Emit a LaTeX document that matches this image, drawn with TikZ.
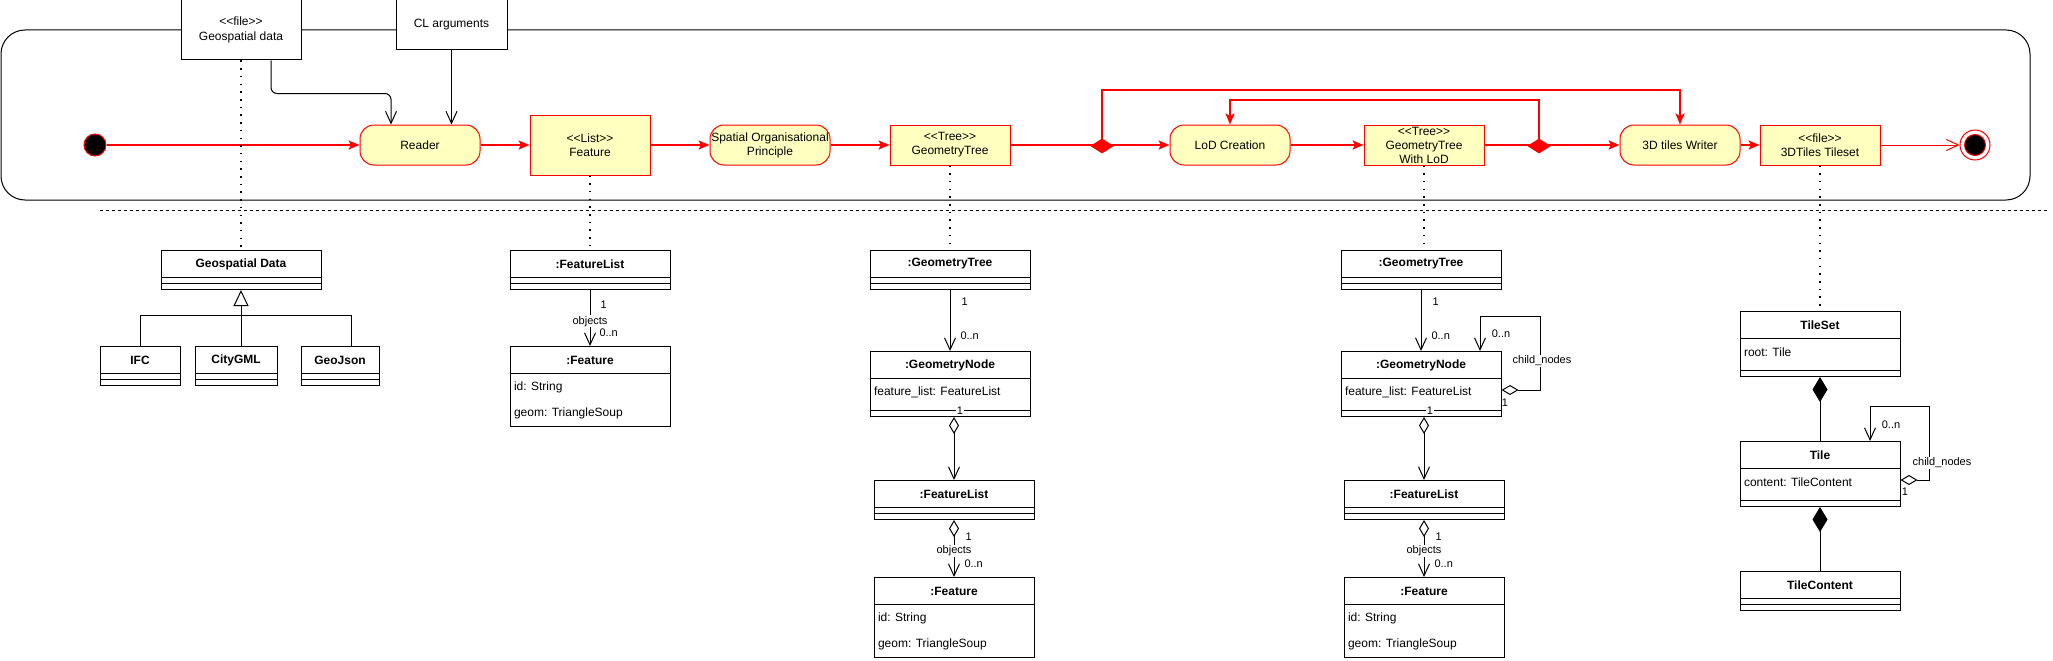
\documentclass[tikz,border=0pt]{standalone}
\usepackage{fontspec}
\setmainfont{Liberation Sans}[Ligatures=TeXOff]
\usetikzlibrary{arrows.meta,shapes.geometric,shapes.multipart,positioning}

\definecolor{actfill}{HTML}{FFFFC0}
\definecolor{flowred}{HTML}{FF0000}

% class compartments
\newcommand{\ctitle}[2]{\parbox[c][26pt][c]{#1}{\centering\bfseries #2}}
\newcommand{\crow}[2]{\hbox{\parbox[c][26pt][c]{#1}{\hspace*{4pt}#2}}}
\newcommand{\cgap}[1]{\hbox{\parbox[c][4pt][c]{#1}{}}}

\tikzset{
  act/.style={draw=flowred, fill=actfill, rounded corners=14pt, minimum width=120pt,
    minimum height=40pt, align=center, inner sep=0pt, font=\fontsize{12}{14}\selectfont},
  objbox/.style={draw=flowred, fill=actfill, minimum width=120pt, minimum height=40pt,
    align=center, inner sep=0pt, font=\fontsize{12}{14}\selectfont},
  inbox/.style={draw, fill=white, align=center, inner sep=0pt, font=\fontsize{12}{15}\selectfont},
  fork/.style={diamond, draw=flowred, fill=flowred, minimum width=22pt, minimum height=14pt, inner sep=0pt},
  startdot/.style={circle, draw=flowred, fill=black, minimum size=22pt, inner sep=0pt},
  finishring/.style={circle, draw=flowred, fill=white, minimum size=30pt, inner sep=0pt},
  finishdot/.style={circle, draw=flowred, fill=black, minimum size=21pt, inner sep=0pt},
  umlclass/.style={draw, fill=white, rectangle split, rectangle split parts=#1, inner sep=0pt,
    anchor=north, font=\fontsize{12}{14}\selectfont},
  flow/.style={draw=flowred, line width=2pt, -{Stealth[length=11pt,width=9pt,inset=2.5pt]}},
  flowthin/.style={draw=flowred, -{Straight Barb[length=12pt,width=11pt]}},
  dep/.style={-{Straight Barb[length=12pt,width=11pt]}},
  trace/.style={line width=1.5pt, dash pattern=on 1.5pt off 6.2pt},
  assoc/.style={-{Straight Barb[length=12pt,width=11pt]}},
  agg/.style={{Diamond[open,length=17pt,width=10pt]}-{Straight Barb[length=12pt,width=11pt]}},
  comp/.style={{Diamond[length=25pt,width=15pt]}-},
  inherit/.style={-{Triangle[open,length=16pt,width=15pt]}},
  lbl/.style={font=\fontsize{11}{13}\selectfont, inner sep=1pt},
}

\begin{document}
\begin{tikzpicture}[x=1pt, y=-1pt, line width=1pt]
  \path[use as bounding box, fill=white] (0,0) rectangle (2053,661);

  % activity frame and separator
  \draw[rounded corners=24pt] (1,30) rectangle (2030,200);
  \draw[dash pattern=on 3pt off 3pt] (100,210) -- (2047,210);

  % inputs
  \node[inbox, minimum width=120pt, minimum height=60pt] (gfile) at (241,30) {<<file>>\\Geospatial data};
  \node[inbox, minimum width=111pt, minimum height=50pt] (clargs) at (451.5,25) {CL arguments};

  % flow
  \node[startdot] (start) at (95,145) {};
  \node[act] (reader) at (420,145) {Reader};
  \node[objbox, minimum height=60pt] (feat) at (590,145) {<<List>>\\Feature};
  \node[act] (sop) at (770,145) {Spatial Organisational\\Principle};
  \node[objbox] (gtree) at (950,145) {<<Tree>>\\GeometryTree};
  \node[act] (lod) at (1230,145) {LoD Creation};
  \node[objbox] (gtlod) at (1424,145) {<<Tree>>\\GeometryTree\\With LoD};
  \node[act] (writer) at (1680,145) {3D tiles Writer};
  \node[objbox] (tileset) at (1820,145) {<<file>>\\3DTiles Tileset};
  \node[finishring] (finish) at (1975,145) {};
  \node[finishdot] (finishcore) at (1975,145) {};
  \coordinate (outerloop) at (1102,90);
  \coordinate (innerloop) at (1539,100);

  \draw[flow] (start) -- (reader);
  \draw[flow] (reader) -- (feat);
  \draw[flow] (feat) -- (sop);
  \draw[flow] (sop) -- (gtree);
  \draw[flow] (gtree) -- (lod);
  \draw[flow] (lod) -- (gtlod);
  \draw[flow] (gtlod) -- (writer);
  \draw[flow] (writer) -- (tileset);
  \draw[flowthin] (tileset) -- (finish);
  \node[fork] (fork1) at (1102,146) {};
  \node[fork] (fork2) at (1539,146) {};
  \draw[flow] (fork1.center) -- (outerloop) -| (writer.north);
  \draw[flow] (fork2.center) -- (innerloop) -| (lod.north);

  \draw[dep, rounded corners=6pt] ([xshift=30pt]gfile.south) -- ++(0,33) -| ([xshift=-29pt]reader.north);
  \draw[dep] (clargs) -- (clargs |- reader.north);

  % geospatial data classes
  \node[umlclass=3] (gdata) at (241,250) {\ctitle{160pt}{Geospatial Data}\nodepart{two}\cgap{160pt}\nodepart{three}\cgap{160pt}};
  \node[umlclass=3] (ifc) at (140,346) {\ctitle{80pt}{IFC}\nodepart{two}\cgap{80pt}\nodepart{three}\cgap{80pt}};
  \node[umlclass=3] (citygml) at (236,346) {\ctitle{82pt}{CityGML}\nodepart{two}\cgap{82pt}\nodepart{three}\cgap{82pt}};
  \node[umlclass=3] (geojson) at (340,346) {\ctitle{78pt}{GeoJson}\nodepart{two}\cgap{78pt}\nodepart{three}\cgap{78pt}};
  \coordinate (genbus) at (241,315);
  \draw[inherit] (citygml.north -| gdata.south) -- (gdata.south);
  \draw (ifc.north) |- (genbus);
  \draw ([xshift=11pt]geojson.north) |- (genbus);

  % feature list classes
  \node[umlclass=3] (flist1) at (590,250) {\ctitle{160pt}{:FeatureList}\nodepart{two}\cgap{160pt}\nodepart{three}\cgap{160pt}};
  \node[umlclass=2] (feat1) at (590,346) {\ctitle{160pt}{:Feature}\nodepart{two}\vbox{\offinterlineskip\crow{160pt}{id: String}\crow{160pt}{geom: TriangleSoup}}};
  \draw[assoc] (flist1) -- node[lbl, pos=0.27, right=9pt] (f1one) {1}
    node[lbl, pos=0.56, fill=white] (f1obj) {objects}
    node[lbl, pos=0.76, right=8pt] (f1many) {0..n} (feat1);

  % geometry tree classes
  \node[umlclass=3] (gtc2) at (950,250) {\ctitle{160pt}{:GeometryTree}\nodepart{two}\cgap{160pt}\nodepart{three}\cgap{160pt}};
  \node[umlclass=3] (gnode2) at (950,351) {\ctitle{160pt}{:GeometryNode}\nodepart{two}\vbox{\offinterlineskip\crow{160pt}{feature\_list: FeatureList}\cgap{160pt}}\nodepart{three}\cgap{160pt}};
  \node[umlclass=3] (flist2) at (954,480) {\ctitle{160pt}{:FeatureList}\nodepart{two}\cgap{160pt}\nodepart{three}\cgap{160pt}};
  \node[umlclass=2] (feat2) at (954,577) {\ctitle{160pt}{:Feature}\nodepart{two}\vbox{\offinterlineskip\crow{160pt}{id: String}\crow{160pt}{geom: TriangleSoup}}};
  \draw[assoc] (gtc2) -- node[lbl, pos=0.19, right=10pt] (g2one) {1}
    node[lbl, pos=0.75, right=9pt] (g2many) {0..n} (gnode2);
  \draw[agg] (flist2.north |- gnode2.south) -- node[lbl, pos=0, fill=white, inner sep=0.5pt, xshift=6pt, yshift=6pt] (n2one) {1} (flist2);
  \draw[agg] (flist2) -- node[lbl, pos=0.30, right=10pt] (l2one) {1}
    node[lbl, pos=0.54, fill=white] (l2obj) {objects}
    node[lbl, pos=0.76, right=9pt] (l2many) {0..n} (feat2);

  % geometry tree with lod classes
  \node[umlclass=3] (gtc3) at (1421,250) {\ctitle{160pt}{:GeometryTree}\nodepart{two}\cgap{160pt}\nodepart{three}\cgap{160pt}};
  \node[umlclass=3] (gnode3) at (1421,351) {\ctitle{160pt}{:GeometryNode}\nodepart{two}\vbox{\offinterlineskip\crow{160pt}{feature\_list: FeatureList}\cgap{160pt}}\nodepart{three}\cgap{160pt}};
  \node[umlclass=3] (flist3) at (1424,480) {\ctitle{160pt}{:FeatureList}\nodepart{two}\cgap{160pt}\nodepart{three}\cgap{160pt}};
  \node[umlclass=2] (feat3) at (1424,577) {\ctitle{160pt}{:Feature}\nodepart{two}\vbox{\offinterlineskip\crow{160pt}{id: String}\crow{160pt}{geom: TriangleSoup}}};
  \draw[assoc] (gtc3) -- node[lbl, pos=0.19, right=10pt] (g3one) {1}
    node[lbl, pos=0.75, right=9pt] (g3many) {0..n} (gnode3);
  \draw[agg] ([yshift=-39pt]gnode3.north east) -- ++(39,0) -- ++(0,-74) -| ([xshift=59pt]gnode3.north);
  \node[lbl] (c3many) at (1501,334) {0..n};
  \node[lbl, fill=white] (c3name) at (1542,361) {child\_nodes};
  \node[lbl] (c3one) at (1505,403) {1};
  \draw[agg] (flist3.north |- gnode3.south) -- node[lbl, pos=0, fill=white, inner sep=0.5pt, xshift=6pt, yshift=6pt] (n3one) {1} (flist3);
  \draw[agg] (flist3) -- node[lbl, pos=0.30, right=10pt] (l3one) {1}
    node[lbl, pos=0.54, fill=white] (l3obj) {objects}
    node[lbl, pos=0.76, right=9pt] (l3many) {0..n} (feat3);

  % tileset classes
  \node[umlclass=3] (tset) at (1820,311) {\ctitle{160pt}{TileSet}\nodepart{two}\vbox{\offinterlineskip\crow{160pt}{root: Tile}\cgap{160pt}}\nodepart{three}\cgap{160pt}};
  \node[umlclass=3] (tile) at (1820,441) {\ctitle{160pt}{Tile}\nodepart{two}\vbox{\offinterlineskip\crow{160pt}{content: TileContent}\cgap{160pt}}\nodepart{three}\cgap{160pt}};
  \node[umlclass=3] (tcontent) at (1820,571) {\ctitle{160pt}{TileContent}\nodepart{two}\cgap{160pt}\nodepart{three}\cgap{160pt}};
  \draw[comp] (tset) -- (tile);
  \draw[comp] (tile) -- (tcontent);
  \draw[agg] ([yshift=-39pt]tile.north east) -- ++(29,0) -- ++(0,-74) -| ([xshift=50pt]tile.north);
  \node[lbl] (tmany) at (1891,425) {0..n};
  \node[lbl, fill=white] (tname) at (1942,463) {child\_nodes};
  \node[lbl] (tone) at (1905,492) {1};

  % traces
  \draw[trace] (gfile) -- (gdata);
  \draw[trace] (feat) -- (flist1);
  \draw[trace] (gtree) -- (gtc2);
  \draw[trace] (gtlod) -- (gtlod |- gtc3.north);
  \draw[trace] (tileset) -- (tset);
\end{tikzpicture}
\end{document}
